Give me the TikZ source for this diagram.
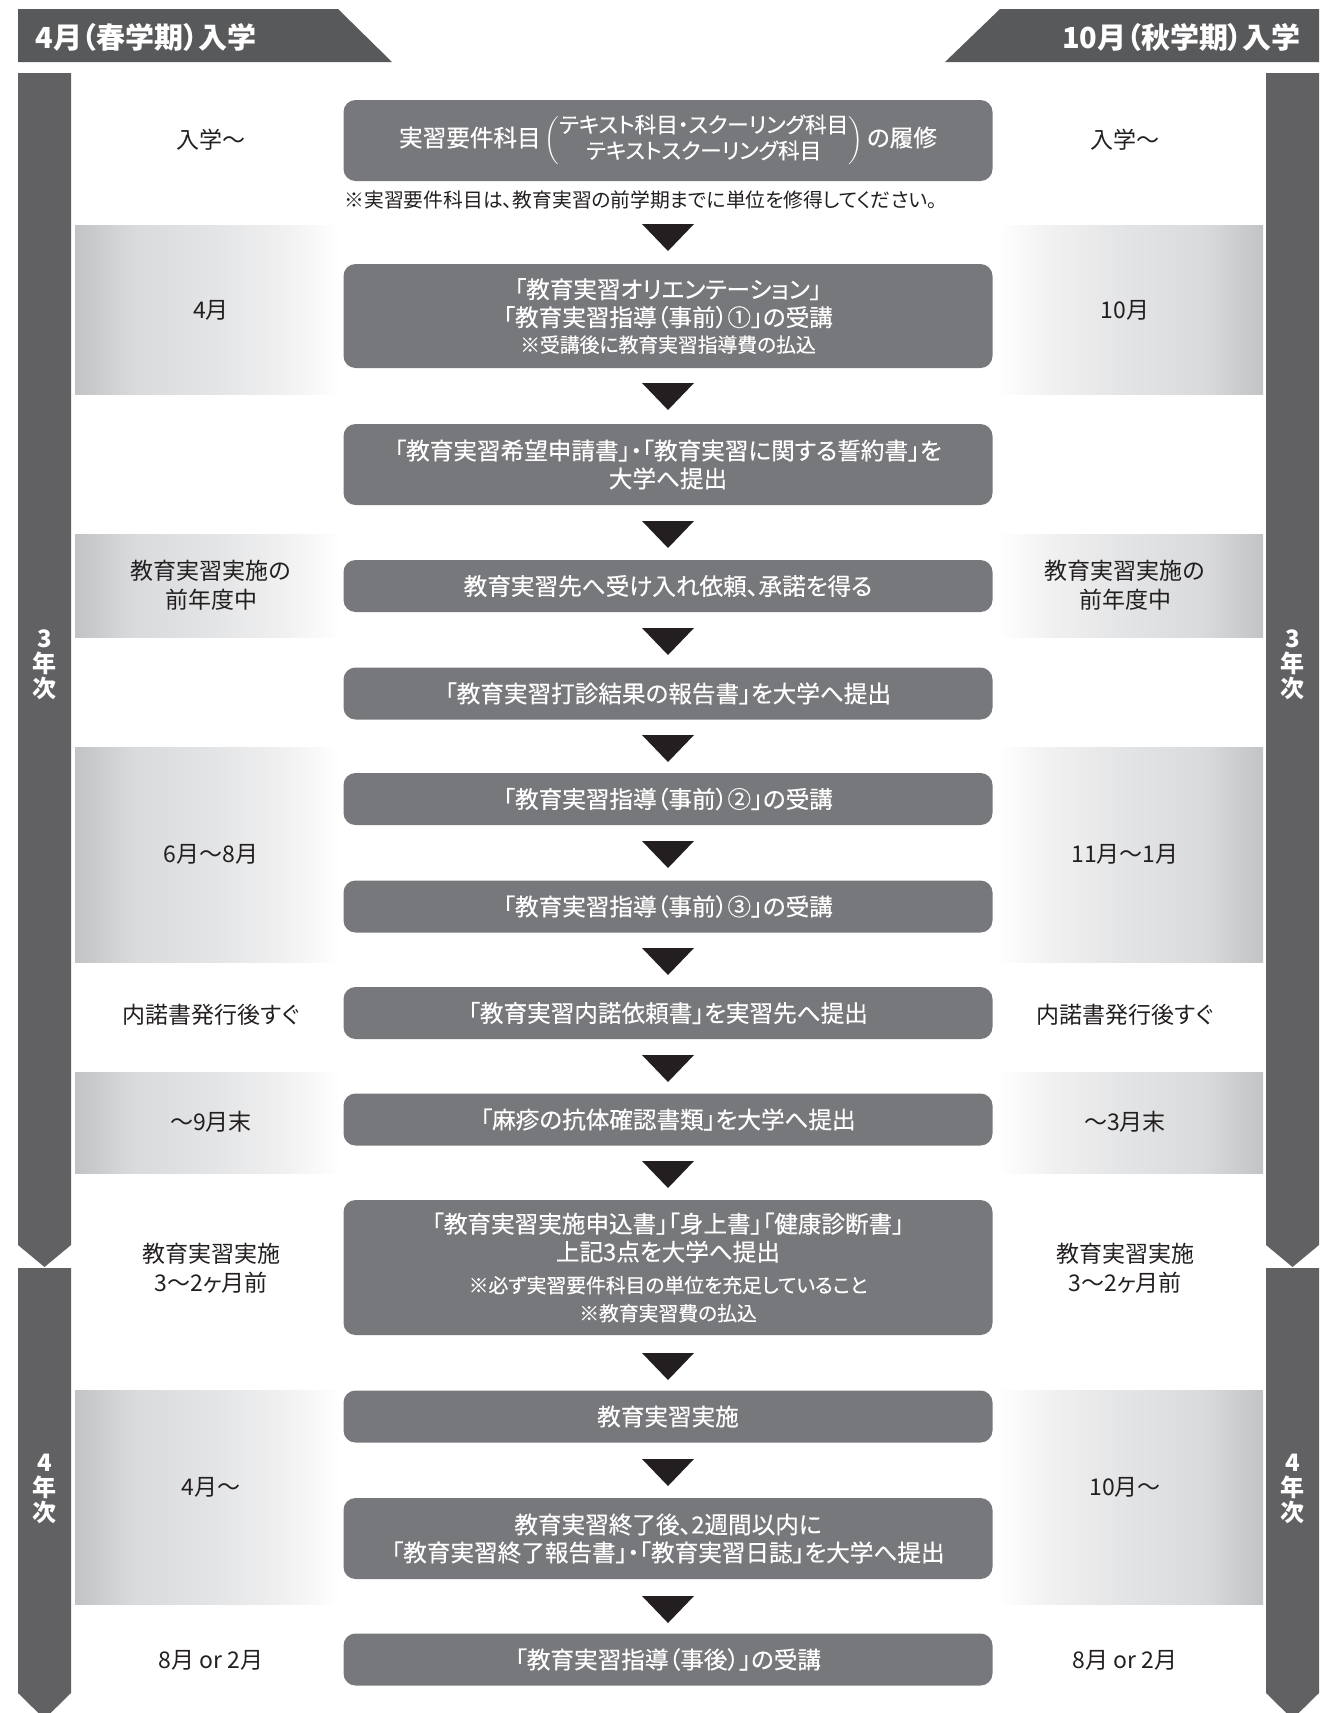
\documentclass[tikz,border=0pt]{standalone}
\usepackage{fontspec}
\setmainfont{Noto Sans CJK JP}[RawFeature=+palt]
\newfontfamily\hdrfont{Noto Sans CJK JP}[RawFeature=+palt]
\newfontfamily\boxfontfam{Noto Sans CJK JP}[RawFeature=+palt,FakeBold=0.4]
\usetikzlibrary{calc}

\definecolor{hdrcol}{HTML}{58595B}
\definecolor{barcol}{HTML}{616163}
\definecolor{boxcol}{HTML}{77787B}
\definecolor{inkcol}{HTML}{231F20}
\definecolor{bandA}{HTML}{C2C3C5}
\definecolor{bandB}{HTML}{D9DADC}
\definecolor{bandC}{HTML}{E4E5E6}
\definecolor{bandD}{HTML}{F1F1F2}

\pgfdeclarehorizontalshading{bandshade}{100bp}{color(0bp)=(bandA); color(25bp)=(bandA); color(36bp)=(bandB); color(52bp)=(bandC); color(65bp)=(bandD); color(75bp)=(white); color(100bp)=(white)}

\tikzset{
  stepbox/.style={fill=boxcol, rounded corners=6pt, text=white, minimum width=324.5pt,
    align=center, font=\boxfontfam\fontsize{11.8}{14}\selectfont, inner sep=0pt},
  sidelbl/.style={text=inkcol, font=\fontsize{11.5}{14.5}\selectfont, align=center, inner sep=0pt},
  hdrlbl/.style={text=white, font=\hdrfont\bfseries\fontsize{14.5}{16}\selectfont, inner sep=0pt},
  yearlbl/.style={text=white, font=\hdrfont\bfseries\fontsize{12}{12.5}\selectfont, align=center, inner sep=0pt},
  notelbl/.style={text=inkcol, font=\fontsize{9.9}{11}\selectfont, inner sep=0pt},
  dtri/.pic={\fill[inkcol] (-26,0) -- (26,0) -- (0,27) -- cycle;},
  lband/.style={shading=bandshade, shading angle=0},
  rband/.style={shading=bandshade, shading angle=180},
}
\newcommand\smalltxt{\fontsize{9.9}{11}\selectfont}

\begin{document}
\begin{tikzpicture}[x=0.5pt,y=-0.5pt]
\useasboundingbox (0,0) rectangle (1334,1713);
\clip (0,0) rectangle (1334,1713);

% headers
\fill[hdrcol] (18,9) -- (338,9) -- (392,62) -- (18,62) -- cycle;
\fill[hdrcol] (1000,9) -- (1319,9) -- (1319,62) -- (945,62) -- cycle;
\node[hdrlbl, anchor=west] (hL) at (35,37) {4月（春学期）入学};
\node[hdrlbl, anchor=east] (hR) at (1301,37) {10月（秋学期）入学};

% year bars
\fill[barcol] (18,73) -- (71,73) -- (71,1245) -- (44.5,1267) -- (18,1245) -- cycle;
\fill[barcol] (18,1268) -- (71,1268) -- (71,1693) -- (44.5,1719) -- (18,1693) -- cycle;
\fill[barcol] (1266,73) -- (1319,73) -- (1319,1245) -- (1292.5,1267) -- (1266,1245) -- cycle;
\fill[barcol] (1266,1268) -- (1319,1268) -- (1319,1693) -- (1292.5,1719) -- (1266,1693) -- cycle;
\node[yearlbl] (y3L) at (44.5,665) {3\\年\\次};
\node[yearlbl] (y3R) at (1292.5,665) {3\\年\\次};
\node[yearlbl] (y4L) at (44.5,1489) {4\\年\\次};
\node[yearlbl] (y4R) at (1292.5,1489) {4\\年\\次};

% gradient bands
\foreach \ya/\yb in {225/394, 534/637, 747/962, 1072/1173, 1390/1604}{
  \path[lband] (75,\ya) rectangle (340,\yb);
  \path[rband] (997,\ya) rectangle (1263,\yb);
}

% step boxes
\node[stepbox, minimum height=40.5pt] (b1) at (668,140.5)
  {実習要件科目\,$\left(\vcenter{\hbox{\fontsize{10.8}{13}\selectfont\begin{tabular}{@{}c@{}}テキスト科目・スクーリング科目\\テキストスクーリング科目\end{tabular}}}\right)$\,の履修};
\node[notelbl, anchor=west] (n1) at (344,200) {※実習要件科目は、教育実習の前学期までに単位を修得してください。};
\node[stepbox, minimum height=52pt] (b2) at (668,316)
  {「教育実習オリエンテーション」\\「教育実習指導（事前）①」の受講\\[-1pt]{\smalltxt ※受講後に教育実習指導費の払込}};
\node[stepbox, minimum height=40.5pt] (b3) at (668,464.5)
  {「教育実習希望申請書」・「教育実習に関する誓約書」を\\大学へ提出};
\node[stepbox, minimum height=26pt] (b4) at (668,586) {教育実習先へ受け入れ依頼、承諾を得る};
\node[stepbox, minimum height=26pt] (b5) at (668,693.5) {「教育実習打診結果の報告書」を大学へ提出};
\node[stepbox, minimum height=26pt] (b6) at (668,799) {「教育実習指導（事前）②」の受講};
\node[stepbox, minimum height=26pt] (b7) at (668,906.5) {「教育実習指導（事前）③」の受講};
\node[stepbox, minimum height=26pt] (b8) at (668,1013) {「教育実習内諾依頼書」を実習先へ提出};
\node[stepbox, minimum height=26pt] (b9) at (668,1119.5) {「麻疹の抗体確認書類」を大学へ提出};
\node[stepbox, minimum height=67.5pt] (b10) at (668,1267.5)
  {「教育実習実施申込書」「身上書」「健康診断書」\\上記3点を大学へ提出\\[2pt]{\smalltxt ※必ず実習要件科目の単位を充足していること}\\{\smalltxt ※教育実習費の払込}};
\node[stepbox, minimum height=26pt] (b11) at (668,1416.5) {教育実習実施};
\node[stepbox, minimum height=40.5pt] (b12) at (668,1538.5)
  {教育実習終了後、2週間以内に\\「教育実習終了報告書」・「教育実習日誌」を大学へ提出};
\node[stepbox, minimum height=26pt] (b13) at (668,1659.5) {「教育実習指導（事後）」の受講};

% arrows
\foreach \yt in {224,383,521,628,735,841,948,1055,1161,1353,1459,1596}{
  \pic at (668,\yt) {dtri};
}

% side labels
\node[sidelbl] (l1) at (211,140) {入学〜};
\node[sidelbl] (r1) at (1125,140) {入学〜};
\node[sidelbl] (l2) at (211,310) {4月};
\node[sidelbl] (r2) at (1125,310) {10月};
\node[sidelbl] (l3) at (211,585) {教育実習実施の\\前年度中};
\node[sidelbl] (r3) at (1125,585) {教育実習実施の\\前年度中};
\node[sidelbl] (l4) at (211,854) {6月〜8月};
\node[sidelbl] (r4) at (1125,854) {11月〜1月};
\node[sidelbl] (l5) at (211,1015) {内諾書発行後すぐ};
\node[sidelbl] (r5) at (1125,1015) {内諾書発行後すぐ};
\node[sidelbl] (l6) at (211,1122) {〜9月末};
\node[sidelbl] (r6) at (1125,1122) {〜3月末};
\node[sidelbl] (l7) at (211,1268) {教育実習実施\\3〜2ヶ月前};
\node[sidelbl] (r7) at (1125,1268) {教育実習実施\\3〜2ヶ月前};
\node[sidelbl] (l8) at (211,1487) {4月〜};
\node[sidelbl] (r8) at (1125,1487) {10月〜};
\node[sidelbl] (l9) at (211,1660) {8月 or 2月};
\node[sidelbl] (r9) at (1125,1660) {8月 or 2月};
\end{tikzpicture}
\end{document}
